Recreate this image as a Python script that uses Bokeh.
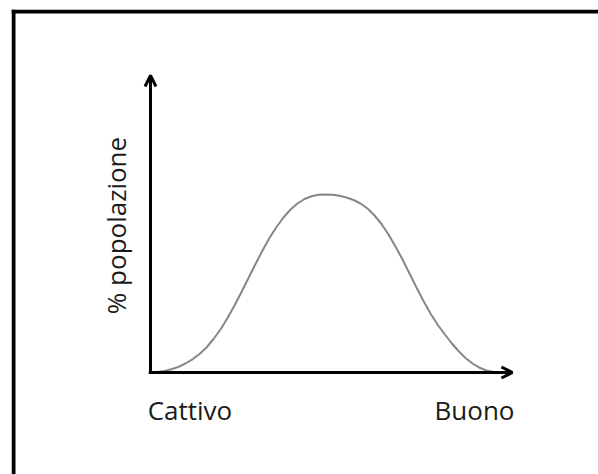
from bokeh.plotting import figure
from bokeh.models import Range1d, Arrow, OpenHead, Span, Label
from bokeh.embed import file_html
from bokeh.resources import INLINE
import math

# Data: quality score (0 = Cattivo, 100 = Buono) vs % popolazione
quality = [0, 2, 4, 6, 8, 10, 12, 14, 16, 18, 20, 22, 24, 26, 28, 30, 32, 34,
           36, 38, 40, 42, 44, 46, 48, 50, 52, 54, 56, 58, 60, 62, 64, 66, 68,
           70, 72, 74, 76, 78, 80, 82, 84, 86, 88, 90, 92, 94, 96, 98, 100]
population = [0, 0.05, 0.15, 0.32, 0.56, 0.9, 1.32, 1.85, 2.5, 3.35, 4.3, 5.45,
              6.7, 8.05, 9.45, 10.85, 12.2, 13.45, 14.55, 15.5, 16.3, 16.9, 17.35,
              17.62, 17.77, 17.8, 17.78, 17.68, 17.5, 17.25, 16.9, 16.4, 15.7,
              14.85, 13.8, 12.6, 11.3, 9.9, 8.5, 7.15, 5.9, 4.8, 3.85, 2.95, 2.15,
              1.45, 0.9, 0.48, 0.2, 0.05, 0]
x_labels = ["Cattivo", "Buono"]
y_label = "% popolazione"

# pixel scales: 3.5 px per quality unit, 10 px per population unit
X_START, X_END = -(150 - 11) / 3.5, (598 - 150) / 3.5
Y_START, Y_END = -(474 - 372) / 10, (372 - 9) / 10
X_AXIS_END = 103.4
Y_AXIS_END = 29.7

p = figure(width=598, height=474, output_backend="svg", toolbar_location=None,
           x_range=Range1d(X_START, X_END), y_range=Range1d(Y_START, Y_END),
           x_axis_type=None, y_axis_type=None,
           min_border_left=11, min_border_top=9, min_border_right=0, min_border_bottom=0)
p.grid.visible = False
p.outline_line_color = None
p.background_fill_color = "white"
p.border_fill_color = "white"

# frame border (left and top visible)
p.add_layout(Span(location=X_START + 2 / 3.5, dimension="height", line_color="black", line_width=4))
p.add_layout(Span(location=Y_END - 2 / 10, dimension="width", line_color="black", line_width=4))

# curve
p.line(quality, population, line_color="#8a8587", line_width=2)

# axes arrows
p.add_layout(Arrow(end=OpenHead(size=11, line_width=3, line_color="black"),
                   x_start=-0.5, y_start=0, x_end=X_AXIS_END, y_end=0,
                   line_width=3, line_color="black"))
p.add_layout(Arrow(end=OpenHead(size=11, line_width=3, line_color="black"),
                   x_start=0, y_start=-0.15, x_end=0, y_end=Y_AXIS_END,
                   line_width=3, line_color="black"))

font = "Open Sans"
fs = "26px"
p.add_layout(Label(x=quality[0] - 0.8, y=-3.7, text=x_labels[0], text_font=font,
                   text_font_size=fs, text_color="#1a1a1a",
                   text_align="left", text_baseline="middle"))
p.add_layout(Label(x=104, y=-3.7, text=x_labels[1], text_font=font,
                   text_font_size=fs, text_color="#1a1a1a",
                   text_align="right", text_baseline="middle"))
p.add_layout(Label(x=-9.9, y=14.7, text=y_label, text_font=font, angle=math.pi / 2,
                   text_font_size=fs, text_color="#1a1a1a",
                   text_align="center", text_baseline="middle"))

open("out.html", "w").write(file_html(p, INLINE))
